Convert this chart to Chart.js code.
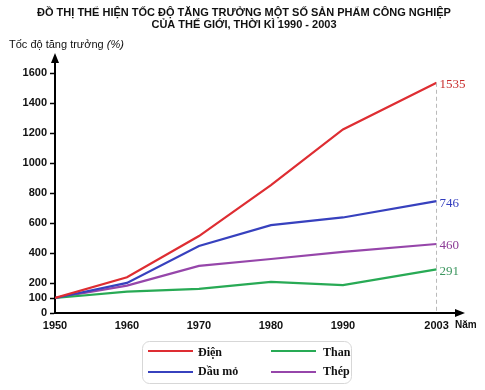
<!DOCTYPE html>
<html>
<head>
<meta charset="utf-8">
<script src="https://cdn.jsdelivr.net/npm/chart.js@4"></script>
<style>
  html, body { margin: 0; padding: 0; background: #fff; }
  #wrap { width: 485px; height: 390px; }
</style>
</head>
<body>
<div id="wrap"><canvas id="chart"></canvas></div>
<script>
// chart data
var years = [1950, 1960, 1970, 1980, 1990, 2003];
var dien = [100, 238, 513, 853, 1224, 1535];
var dauMo = [100, 201, 447, 586, 637, 746];
var than = [100, 143, 161, 207, 186, 291];
var thep = [100, 183, 314, 360, 407, 460];
var yTicks = [0, 100, 200, 400, 600, 800, 1000, 1200, 1400, 1600];
var titleLines = ['ĐỒ THỊ THỂ HIỆN TỐC ĐỘ TĂNG TRƯỞNG MỘT SỐ SẢN PHẨM CÔNG NGHIỆP',
                  'CỦA THẾ GIỚI, THỜI KÌ 1990 - 2003'];

var sans = '"Liberation Sans", Arial, sans-serif';
var serif = '"Liberation Serif", "Times New Roman", serif';

function pts(vals) {
  return years.map(function (y, i) { return { x: y, y: vals[i] }; });
}

// extras: title, axis arrows, dashed 2003 line, end labels, axis titles, legend box
var extras = {
  id: 'extras',
  afterDatasetsDraw: function (chart) {
    var c = chart.ctx, a = chart.chartArea;
    var xs = chart.scales.x, ys = chart.scales.y;
    c.save();

    // title
    c.fillStyle = '#111';
    c.font = 'bold 11px ' + sans;
    c.textAlign = 'center';
    c.textBaseline = 'middle';
    c.fillText(titleLines[0], 244, 13);
    c.fillText(titleLines[1], 244, 25);

    // dashed line at last year
    var lastX = xs.getPixelForValue(years[years.length - 1]);
    c.strokeStyle = 'rgb(185,185,185)';
    c.lineWidth = 1;
    c.setLineDash([4, 3]);
    c.beginPath();
    c.moveTo(lastX, ys.getPixelForValue(dien[dien.length - 1]));
    c.lineTo(lastX, a.bottom);
    c.stroke();
    c.setLineDash([]);

    // arrows
    c.fillStyle = '#000';
    c.beginPath();
    c.moveTo(a.left, a.top - 4);
    c.lineTo(a.left - 4, a.top + 6);
    c.lineTo(a.left + 4, a.top + 6);
    c.closePath();
    c.fill();
    c.beginPath();
    c.moveTo(a.right + 4, a.bottom);
    c.lineTo(a.right - 6, a.bottom - 4);
    c.lineTo(a.right - 6, a.bottom + 4);
    c.closePath();
    c.fill();

    // end value labels
    c.font = '13px ' + serif;
    c.textAlign = 'left';
    c.textBaseline = 'middle';
    chart.data.datasets.forEach(function (ds) {
      var v = ds.data[ds.data.length - 1];
      c.fillStyle = ds.valueColor;
      c.fillText(String(v.y), lastX + 3, ys.getPixelForValue(v.y) + 2);
    });

    // axis titles
    c.fillStyle = '#111';
    c.font = '11px ' + sans;
    c.textBaseline = 'middle';
    var t1 = 'Tốc độ tăng trưởng ';
    c.fillText(t1, 9, 45);
    var w1 = c.measureText(t1).width;
    c.font = 'italic 11px ' + sans;
    c.fillText('(%)', 9 + w1, 45);
    c.font = 'bold 10px ' + sans;
    c.fillText('Năm', a.right - 6, a.bottom + 12);

    // legend
    var bx = 142, by = 341, bw = 209, bh = 42, r = 7;
    c.strokeStyle = 'rgb(215,215,215)';
    c.lineWidth = 1;
    c.beginPath();
    c.roundRect(bx + 0.5, by + 0.5, bw, bh, r);
    c.stroke();
    c.font = 'bold 12px ' + serif;
    c.textBaseline = 'middle';
    chart.data.datasets.forEach(function (ds, i) {
      var col = i < 2 ? 0 : 1, row = i % 2;
      var lx = col === 0 ? 148 : 271;
      var ly = row === 0 ? 351 : 372;
      c.strokeStyle = ds.borderColor;
      c.lineWidth = 2;
      c.beginPath();
      c.moveTo(lx, ly);
      c.lineTo(lx + 45, ly);
      c.stroke();
      c.fillStyle = '#111';
      c.fillText(ds.label, lx + (col === 0 ? 50 : 52), ly + (row === 0 ? 2 : 0));
    });

    c.restore();
  }
};

var ctx = document.getElementById('chart').getContext('2d');
var chart = new Chart(ctx, {
  type: 'line',
  data: {
    datasets: [
      { label: 'Điện', data: pts(dien), borderColor: 'rgb(222,45,50)', valueColor: 'rgb(200,45,45)' },
      { label: 'Dầu mỏ', data: pts(dauMo), borderColor: 'rgb(55,65,190)', valueColor: 'rgb(50,60,190)' },
      { label: 'Than', data: pts(than), borderColor: 'rgb(40,170,85)', valueColor: 'rgb(60,150,95)' },
      { label: 'Thép', data: pts(thep), borderColor: 'rgb(150,70,170)', valueColor: 'rgb(140,60,150)' }
    ]
  },
  options: {
    responsive: true,
    maintainAspectRatio: false,
    animation: false,
    layout: { padding: { left: 0, right: 24, top: 57, bottom: 47 } },
    elements: {
      line: { borderWidth: 2.2, tension: 0 },
      point: { radius: 0 }
    },
    plugins: {
      legend: { display: false },
      tooltip: { enabled: false },
      title: { display: false }
    },
    scales: {
      x: {
        type: 'linear',
        min: 1950,
        max: 2006.4,
        afterBuildTicks: function (s) { s.ticks = years.map(function (v) { return { value: v }; }); },
        afterFit: function (s) { s.height = 30; },
        grid: { display: false, drawTicks: false, tickLength: 0 },
        border: { display: true, color: '#000', width: 2 },
        ticks: {
          color: '#111',
          padding: 6,
          maxRotation: 0,
          autoSkip: false,
          font: { family: sans, size: 11, weight: 'bold' },
          callback: function (v) { return String(v); }
        }
      },
      y: {
        min: 0,
        max: 1707,
        afterBuildTicks: function (s) { s.ticks = yTicks.map(function (v) { return { value: v }; }); },
        afterFit: function (s) { s.width = 55; },
        grid: { drawOnChartArea: false, drawTicks: true, tickLength: 5, color: '#000', tickWidth: 1.5 },
        border: { display: true, color: '#000', width: 2 },
        ticks: {
          color: '#111',
          padding: 3,
          autoSkip: false,
          font: { family: sans, size: 11, weight: 'bold' },
          callback: function (v) { return String(v); }
        }
      }
    }
  },
  plugins: [extras]
});
</script>
</body>
</html>
